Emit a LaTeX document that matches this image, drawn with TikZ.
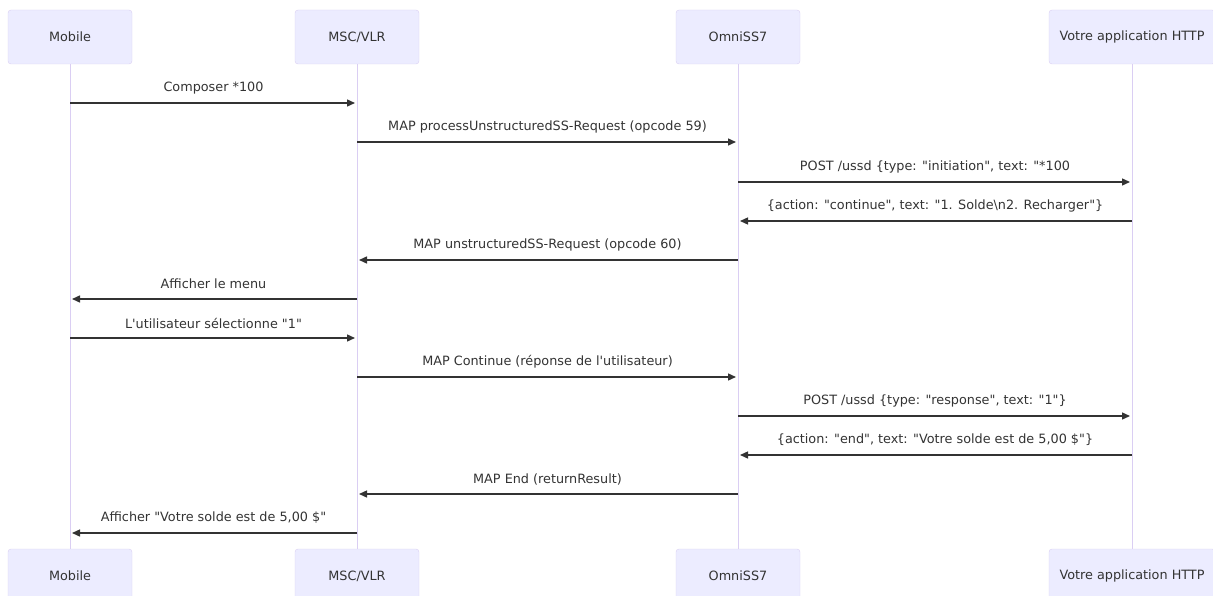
\documentclass[tikz,border=0pt]{standalone}
\usepackage{fontspec}
\setmainfont{DejaVu Sans}[Ligatures=TeXOff]
\usetikzlibrary{arrows.meta}

\definecolor{actorfill}{HTML}{ECECFF}
\definecolor{actorline}{HTML}{DACEF3}
\definecolor{msgcol}{HTML}{333333}

\begin{document}
\begin{tikzpicture}[x=1pt,y=-1pt,
        font=\fontsize{12.8}{15}\selectfont,
        actor/.style={draw=actorline, fill=actorfill, rounded corners=3pt,
            minimum height=54pt, minimum width=124pt, text=msgcol, inner sep=0pt},
        lifeline/.style={draw=actorline, line width=1pt},
        msg/.style={draw=msgcol, line width=1.4pt, shorten >=2pt,
            -{Triangle[length=8pt,width=7pt]}},
        msgtext/.style={midway, yshift=15pt, text=msgcol, inner sep=0pt}]
        \useasboundingbox (0,0) rectangle (1213,596);

        % Actors (top)
        \node[actor] (mobile) at (70,37) {Mobile};
        \node[actor] (msc) at (357,37) {MSC/VLR};
        \node[actor] (omni) at (738,37) {OmniSS7};
        \node[actor, minimum width=166pt] (app) at (1132,37) {Votre application HTTP};

        % Actors (bottom)
        \node[actor] (mobileB) at (70,576) {Mobile};
        \node[actor] (mscB) at (357,576) {MSC/VLR};
        \node[actor] (omniB) at (738,576) {OmniSS7};
        \node[actor, minimum width=166pt] (appB) at (1132,576) {Votre application HTTP};

        % Lifelines
        \draw[lifeline] (mobile) -- (mobileB);
        \draw[lifeline] (msc) -- (mscB);
        \draw[lifeline] (omni) -- (omniB);
        \draw[lifeline] (app) -- (appB);

        % Dial and open the session
        \draw[msg] (mobile |- 0,103) -- (msc |- 0,103) node[msgtext] {Composer *100};
        \draw[msg] (msc |- 0,142) -- (omni |- 0,142) node[msgtext] {MAP processUnstructuredSS-Request (opcode 59)};
        \draw[msg] (omni |- 0,182) -- (app |- 0,182) node[msgtext] {POST /ussd \{type: "initiation", text: "*100};
        \draw[msg] (app |- 0,221) -- (omni |- 0,221) node[msgtext] {\{action: "continue", text: "1. Solde\textbackslash n2. Recharger"\}};

        % Menu shown to the user
        \draw[msg] (omni |- 0,260) -- (msc |- 0,260) node[msgtext] {MAP unstructuredSS-Request (opcode 60)};
        \draw[msg] (msc |- 0,299) -- (mobile |- 0,299) node[msgtext] {Afficher le menu};
        \draw[msg] (mobile |- 0,338) -- (msc |- 0,338) node[msgtext] {L'utilisateur sélectionne "1"};

        % Reply and end
        \draw[msg] (msc |- 0,377) -- (omni |- 0,377) node[msgtext] {MAP Continue (réponse de l'utilisateur)};
        \draw[msg] (omni |- 0,416) -- (app |- 0,416) node[msgtext] {POST /ussd \{type: "response", text: "1"\}};
        \draw[msg] (app |- 0,455) -- (omni |- 0,455) node[msgtext] {\{action: "end", text: "Votre solde est de 5,00 \$"\}};
        \draw[msg] (omni |- 0,494) -- (msc |- 0,494) node[msgtext] {MAP End (returnResult)};
        \draw[msg] (msc |- 0,533) -- (mobile |- 0,533) node[msgtext] {Afficher "Votre solde est de 5,00 \$"};

\end{tikzpicture}
\end{document}
